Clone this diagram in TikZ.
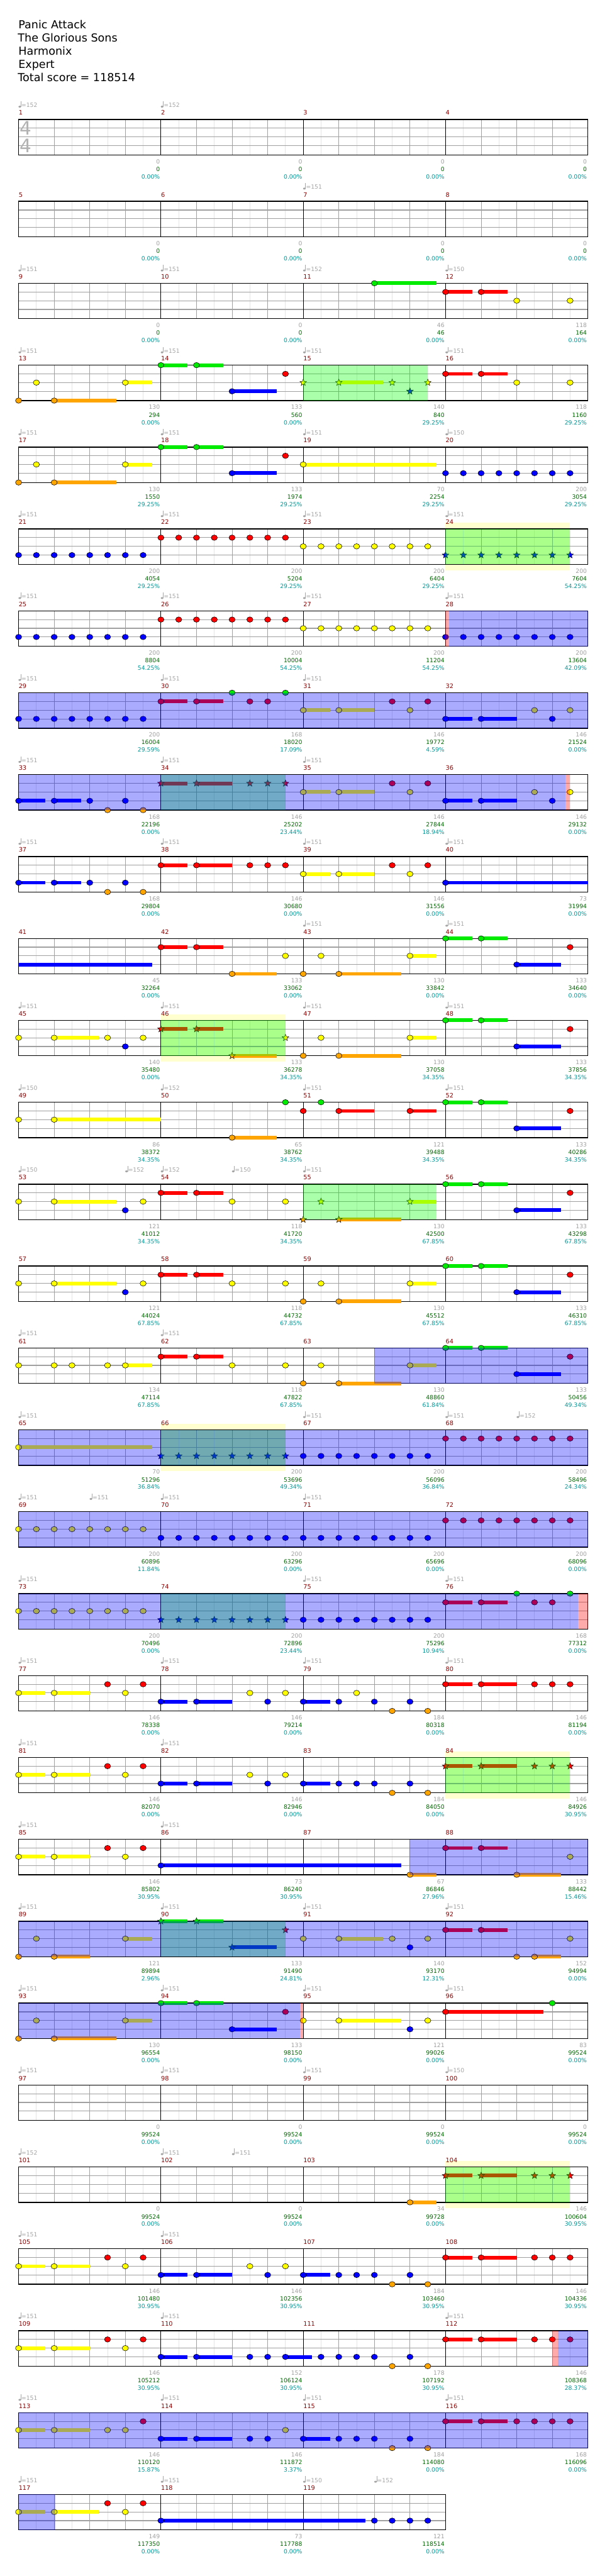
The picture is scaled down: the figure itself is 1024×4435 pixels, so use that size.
\documentclass[tikz,border=0pt]{standalone}
\usepackage{fontspec}
\setmainfont{DejaVu Sans}
\usetikzlibrary{shapes.geometric}
\definecolor{colg}{RGB}{0,235,0}
\definecolor{colr}{RGB}{255,0,0}
\definecolor{coly}{RGB}{255,255,0}
\definecolor{colb}{RGB}{0,0,255}
\definecolor{colo}{RGB}{255,165,0}
\definecolor{grayc}{RGB}{160,160,160}
\definecolor{greenc}{RGB}{0,100,0}
\definecolor{tealc}{RGB}{0,150,150}
\definecolor{mnumc}{RGB}{139,0,0}
\definecolor{tempoc}{RGB}{165,165,165}
\definecolor{bandc}{RGB}{255,255,208}
\definecolor{elinec}{RGB}{228,228,228}
\definecolor{qlinec}{RGB}{160,160,160}
\definecolor{tsigc}{RGB}{178,178,178}
\def\laneg{0}\def\laner{15}\def\laney{30}\def\laneb{45}\def\laneo{61}
\newcounter{nd}
\tikzset{
  small/.style={font=\fontsize{7.5}{9}\selectfont,inner sep=0pt},
  mnum/.style={font=\fontsize{7.9}{9}\selectfont,text=mnumc,inner sep=0pt},
  titletext/.style={font=\fontsize{14.25}{17}\selectfont,anchor=base west,inner sep=0pt},
  tsig/.style={font=\fontsize{24}{26}\selectfont,text=tsigc,inner sep=0pt},
  eline/.style={draw=elinec,line width=0.6pt},
  qline/.style={draw=qlinec,line width=0.7pt},
  mline/.style={draw=black,line width=0.6pt},
  laneline/.style={draw=qlinec,line width=0.9pt},
  border/.style={draw=black,line width=1.1pt},
  notehead/.style={draw=black,line width=0.45pt},
  starnote/.style={star,star points=5,star point ratio=2.3,minimum size=9pt,inner sep=0pt,draw=black,line width=0.4pt},
  gover/.style={fill={rgb,255:red,0;green,255;blue,0},opacity=0.3333},
  bover/.style={fill={rgb,255:red,0;green,0;blue,255},opacity=0.3333},
  pover/.style={fill={rgb,255:red,255;green,0;blue,0},opacity=0.3333},
}
\newcommand\SetRow[1]{\pgfmathsetmacro\curT{205.67+141*(#1-1)}}
\newcommand\Grid[2]{%
  \pgfmathsetmacro\gXe{32+245*#1}%
  \pgfmathtruncatemacro\gNe{8*#1-1}%
  \foreach \e in {1,...,\gNe}{%
    \pgfmathtruncatemacro\gQ{mod(\e,2)}%
    \ifnum\gQ=1 \draw[eline] ({32+30.625*\e},\curT) -- ++(0,61);\fi
  }%
  \foreach \l in {15,30,45}{\draw[laneline] (32,\curT+\l) -- (\gXe,\curT+\l);}%
  \foreach \e in {1,...,\gNe}{%
    \pgfmathtruncatemacro\gM{mod(\e,8)}%
    \pgfmathtruncatemacro\gQ{mod(\e,2)}%
    \ifnum\gM=0 \draw[mline] ({32+30.625*\e},\curT) -- ++(0,61);%
    \else\ifnum\gQ=0 \draw[qline] ({32+30.625*\e},\curT) -- ++(0,61);\fi\fi
  }%
  \draw[border] (32,\curT) rectangle (\gXe,\curT+61);%
  \pgfmathtruncatemacro\gNm{#1-1}%
  \foreach \j in {0,...,\gNm}{\stepcounter{nd}\node[mnum,anchor=base west] (m\thend) at ({32+245*\j},\curT-7.7) {\the\numexpr#2+\j\relax};}%
}
\newcommand\nt[3]{%
  \pgfmathsetmacro\nX{32+30.625*(#2)}%
  \pgfmathsetmacro\nY{\curT+\csname lane#1\endcsname}%
  \if\relax\detokenize{#3}\relax\else
    \fill[col#1] (\nX,\nY-3.2) rectangle ({32+30.625*(#3)},\nY+3.2);%
  \fi
  \filldraw[fill=col#1,notehead] (\nX,\nY) ellipse [x radius=4pt,y radius=3.5pt];%
}
\newcommand\st[3]{%
  \pgfmathsetmacro\nX{32+30.625*(#2)}%
  \pgfmathsetmacro\nY{\curT+\csname lane#1\endcsname}%
  \if\relax\detokenize{#3}\relax\else
    \fill[col#1] (\nX,\nY-3.2) rectangle ({32+30.625*(#3)},\nY+3.2);%
  \fi
  \stepcounter{nd}\node[starnote,fill=col#1] (s\thend) at (\nX,\nY) {};%
}
\newcommand\run[3]{\foreach \i in {#2,...,#3}{\nt{#1}{\i}{}}}
\newcommand\srun[3]{\foreach \i in {#2,...,#3}{\st{#1}{\i}{}}}
\newcommand\Tempo[2]{%
  \pgfmathsetmacro\tX{32+30.625*(#1)}%
  \fill[tempoc] (\tX+2,\curT-22) ellipse [x radius=1.7pt,y radius=1.25pt];%
  \draw[tempoc,line width=0.5pt] (\tX+3.9,\curT-22) -- (\tX+3.9,\curT-31.5);%
  \stepcounter{nd}\node[small,text=tempoc,anchor=base west] (t\thend) at (\tX+4.6,\curT-21) {=#2};%
}
\newcommand\Labs[1]{%
  \foreach \g/\c/\p [count=\j] in {#1}{%
    \stepcounter{nd}\node[small,text=grayc,anchor=base east] (a\thend) at ({32+245*\j-1.5},\curT+76.2) {\g};%
    \stepcounter{nd}\node[small,text=greenc,anchor=base east] (b\thend) at ({32+245*\j-1.5},\curT+89.3) {\c};%
    \stepcounter{nd}\node[small,text=tealc,anchor=base east] (c\thend) at ({32+245*\j-1.5},\curT+102.2) {\p\%};%
  }}
\newcommand\Band[2]{\fill[bandc] ({32+30.625*(#1)},\curT-10.7) rectangle ({32+30.625*(#2)},\curT+71);}
\newcommand\GO[2]{\fill[gover] ({32+30.625*(#1)},\curT) rectangle ({32+30.625*(#2)},\curT+61);}
\newcommand\BO[2]{\fill[bover] ({32+30.625*(#1)},\curT) rectangle ({32+30.625*(#2)},\curT+61);}
\newcommand\PO[2]{\fill[pover] ({32+30.625*(#1)},\curT) rectangle ({32+30.625*(#2)},\curT+61);}
\newcommand\TempoRow[1]{\foreach \e in {#1}{\Tempo{\e}{151}}}
\begin{document}
\begin{tikzpicture}[x=0.75pt,y=-0.75pt]
\useasboundingbox[fill=white] (0,0) rectangle (1024,4435);
% title
\node[titletext] (title1) at (31.5,49) {Panic Attack};
\node[titletext] (title2) at (30.5,71.8) {The Glorious Sons};
\node[titletext] (title3) at (31.5,94.6) {Harmonix};
\node[titletext] (title4) at (31.5,117.4) {Expert};
\node[titletext] (title5) at (30.5,140.2) {Total score = 118514};
% ---------- row 1
\SetRow{1}
\Grid{4}{1}
\node[tsig] (ts1) at (44.7,\curT+15) {4};
\node[tsig] (ts2) at (44.7,\curT+45) {4};
\Tempo{0}{152}\Tempo{8}{152}
\Labs{0/0/0.00,0/0/0.00,0/0/0.00,0/0/0.00}
% ---------- row 2
\SetRow{2}
\Grid{4}{5}
\Tempo{16}{151}
\Labs{0/0/0.00,0/0/0.00,0/0/0.00,0/0/0.00}
% ---------- row 3
\SetRow{3}
\Grid{4}{9}
\Tempo{0}{151}\Tempo{8}{151}\Tempo{16}{152}\Tempo{24}{150}
\nt g{20}{23.5}\nt r{24}{25.5}\nt r{26}{27.5}\nt y{28}{}\nt y{31}{}
\Labs{0/0/0.00,0/0/0.00,46/46/0.00,118/164/0.00}
% ---------- row 4
\SetRow{4}
\Grid{4}{13}
\TempoRow{0,8,16,24}
\nt o{0}{}\nt y{1}{}\nt o{2}{5.5}\nt y{6}{7.5}\nt g{8}{9.5}\nt g{10}{11.5}\nt b{12}{14.5}\nt r{15}{}
\st y{16}{}\st y{18}{20.5}\st y{21}{}\st b{22}{}\st y{23}{}
\nt r{24}{25.5}\nt r{26}{27.5}\nt y{28}{}\nt y{31}{}
\GO{16}{23}
\Labs{130/294/0.00,133/560/0.00,140/840/29.25,118/1160/29.25}
% ---------- row 5
\SetRow{5}
\Grid{4}{17}
\Tempo{0}{151}\Tempo{8}{151}\Tempo{16}{151}\Tempo{24}{150}
\nt o{0}{}\nt y{1}{}\nt o{2}{5.5}\nt y{6}{7.5}\nt g{8}{9.5}\nt g{10}{11.5}\nt b{12}{14.5}\nt r{15}{}
\nt y{16}{23.5}\run b{24}{31}
\Labs{130/1550/29.25,133/1974/29.25,70/2254/29.25,200/3054/29.25}
% ---------- row 6
\SetRow{6}
\Band{24}{31}
\Grid{4}{21}
\TempoRow{0,8,16,24}
\run b{0}{7}\run r{8}{15}\run y{16}{23}\srun b{24}{31}
\GO{24}{31}
\Labs{200/4054/29.25,200/5204/29.25,200/6404/29.25,200/7604/54.25}
% ---------- row 7
\SetRow{7}
\Grid{4}{25}
\TempoRow{0,8,16,24}
\run b{0}{7}\run r{8}{15}\run y{16}{23}\run b{24}{31}
\PO{24}{24.2}\BO{24.2}{32}
\Labs{200/8804/54.25,200/10004/54.25,200/11204/54.25,200/13604/42.09}
% ---------- row 8
\SetRow{8}
\Grid{4}{29}
\TempoRow{0,8,16}
\run b{0}{7}\nt r{8}{9.5}\nt r{10}{11.5}\nt g{12}{}\nt r{13}{}\nt r{14}{}\nt g{15}{}
\nt y{16}{17.5}\nt y{18}{20}\nt r{21}{}\nt y{22}{}\nt r{23}{}
\nt b{24}{25.5}\nt b{26}{28}\nt y{29}{}\nt b{30}{}\nt y{31}{}
\BO{0}{32}
\Labs{200/16004/29.59,168/18020/17.09,146/19772/4.59,146/21524/0.00}
% ---------- row 9
\SetRow{9}
\Grid{4}{33}
\TempoRow{0,8,16}
\nt b{0}{1.5}\nt b{2}{3.5}\nt b{4}{}\nt o{5}{}\nt b{6}{}\nt o{7}{}
\st r{8}{9.5}\st r{10}{12}\st r{13}{}\st r{14}{}\st r{15}{}
\nt y{16}{17.5}\nt y{18}{20}\nt r{21}{}\nt y{22}{}\nt r{23}{}
\nt b{24}{25.5}\nt b{26}{28}\nt y{29}{}\nt b{30}{}\nt y{31}{}
\GO{8}{15}\BO{0}{30.74}\PO{30.74}{31}
\Labs{168/22196/0.00,146/25202/23.44,146/27844/18.94,146/29132/0.00}
% ---------- row 10
\SetRow{10}
\Grid{4}{37}
\TempoRow{0,8,16,24}
\nt b{0}{1.5}\nt b{2}{3.5}\nt b{4}{}\nt o{5}{}\nt b{6}{}\nt o{7}{}
\nt r{8}{9.5}\nt r{10}{12}\nt r{13}{}\nt r{14}{}\nt r{15}{}
\nt y{16}{17.5}\nt y{18}{20}\nt r{21}{}\nt y{22}{}\nt r{23}{}
\nt b{24}{32}
\Labs{168/29804/0.00,146/30680/0.00,146/31556/0.00,73/31994/0.00}
% ---------- row 11
\SetRow{11}
\Grid{4}{41}
\TempoRow{16,24}
\fill[colb] (32,\curT+45-3.2) rectangle ({32+30.625*7.5},\curT+45+3.2);
\nt r{8}{9.5}\nt r{10}{11.5}\nt o{12}{14.5}\nt y{15}{}\nt o{16}{}\nt y{17}{}\nt o{18}{21.5}\nt y{22}{23.5}
\nt g{24}{25.5}\nt g{26}{27.5}\nt b{28}{30.5}\nt r{31}{}
\Labs{45/32264/0.00,133/33062/0.00,130/33842/0.00,133/34640/0.00}
% ---------- row 12
\SetRow{12}
\Band{8}{15}
\Grid{4}{45}
\TempoRow{0,8,16,24}
\nt y{0}{}\nt y{2}{4.5}\nt y{5}{}\nt b{6}{}\nt y{7}{}
\st r{8}{9.5}\st r{10}{11.5}\st o{12}{14.5}\st y{15}{}
\nt o{16}{}\nt y{17}{}\nt o{18}{21.5}\nt y{22}{23.5}
\nt g{24}{25.5}\nt g{26}{27.5}\nt b{28}{30.5}\nt r{31}{}
\GO{8}{15}
\Labs{140/35480/0.00,133/36278/34.35,130/37058/34.35,133/37856/34.35}
% ---------- row 13
\SetRow{13}
\Grid{4}{49}
\Tempo{0}{150}\Tempo{8}{152}\Tempo{16}{151}\Tempo{24}{151}
\nt y{0}{}\nt y{2}{8}\nt o{12}{14.5}\nt g{15}{}
\nt r{16}{}\nt g{17}{}\nt r{18}{20}\nt r{22}{23.5}
\nt g{24}{25.5}\nt g{26}{27.5}\nt b{28}{30.5}\nt r{31}{}
\Labs{86/38372/34.35,65/38762/34.35,121/39488/34.35,133/40286/34.35}
% ---------- row 14
\SetRow{14}
\Grid{4}{53}
\Tempo{0}{150}\Tempo{6}{152}\Tempo{8}{152}\Tempo{12}{150}\Tempo{16}{151}
\nt y{0}{}\nt y{2}{5.5}\nt b{6}{}\nt y{7}{}
\nt r{8}{9.5}\nt r{10}{11.5}\nt y{12}{}\nt y{15}{}
\st o{16}{}\st y{17}{}\st o{18}{21.5}\st y{22}{23.5}
\nt g{24}{25.5}\nt g{26}{27.5}\nt b{28}{30.5}\nt r{31}{}
\GO{16}{23.5}
\Labs{121/41012/34.35,118/41720/34.35,130/42500/67.85,133/43298/67.85}
% ---------- row 15
\SetRow{15}
\Grid{4}{57}
\nt y{0}{}\nt y{2}{5.5}\nt b{6}{}\nt y{7}{}
\nt r{8}{9.5}\nt r{10}{11.5}\nt y{12}{}\nt y{15}{}
\nt o{16}{}\nt y{17}{}\nt o{18}{21.5}\nt y{22}{23.5}
\nt g{24}{25.5}\nt g{26}{27.5}\nt b{28}{30.5}\nt r{31}{}
\Labs{121/44024/67.85,118/44732/67.85,130/45512/67.85,133/46310/67.85}
% ---------- row 16
\SetRow{16}
\Grid{4}{61}
\TempoRow{0,8}
\nt y{0}{}\nt y{2}{}\nt y{3}{}\nt y{5}{}\nt y{6}{7.5}
\nt r{8}{9.5}\nt r{10}{11.5}\nt y{12}{}\nt y{15}{}
\nt o{16}{}\nt y{17}{}\nt o{18}{21.5}\nt y{22}{23.5}
\nt g{24}{25.5}\nt g{26}{27.5}\nt b{28}{30.5}\nt r{31}{}
\BO{20}{32}
\Labs{134/47114/67.85,118/47822/67.85,130/48860/61.84,133/50456/49.34}
% ---------- row 17
\SetRow{17}
\Band{8}{15}
\Grid{4}{65}
\Tempo{0}{151}\Tempo{16}{151}\Tempo{24}{151}\Tempo{28}{152}
\nt y{0}{7.5}\srun b{8}{15}\run b{16}{23}\run r{24}{31}
\GO{8}{15}\BO{0}{32}
\Labs{70/51296/36.84,200/53696/49.34,200/56096/36.84,200/58496/24.34}
% ---------- row 18
\SetRow{18}
\Grid{4}{69}
\TempoRow{0,4,8,16}
\run y{0}{7}\run b{8}{23}\run r{24}{31}
\BO{0}{32}
\Labs{200/60896/11.84,200/63296/0.00,200/65696/0.00,200/68096/0.00}
% ---------- row 19
\SetRow{19}
\Grid{4}{73}
\TempoRow{0,16,24}
\run y{0}{7}\srun b{8}{15}\run b{16}{23}
\nt r{24}{25.5}\nt r{26}{27.5}\nt g{28}{}\nt r{29}{}\nt r{30}{}\nt g{31}{}
\GO{8}{15}\BO{0}{31.45}\PO{31.45}{32}
\Labs{200/70496/0.00,200/72896/23.44,200/75296/10.94,168/77312/0.00}
% ---------- row 20
\SetRow{20}
\Grid{4}{77}
\TempoRow{0,8,16,24}
\nt y{0}{1.5}\nt y{2}{4}\nt r{5}{}\nt y{6}{}\nt r{7}{}
\nt b{8}{9.5}\nt b{10}{12}\nt y{13}{}\nt b{14}{}\nt y{15}{}
\nt b{16}{17.5}\nt b{18}{}\nt y{19}{}\nt b{20}{}\nt o{21}{}\nt b{22}{}\nt o{23}{}
\nt r{24}{25.5}\nt r{26}{28}\nt r{29}{}\nt r{30}{}\nt r{31}{}
\Labs{146/78338/0.00,146/79214/0.00,184/80318/0.00,146/81194/0.00}
% ---------- row 21
\SetRow{21}
\Band{24}{31}
\Grid{4}{81}
\TempoRow{0,8}
\nt y{0}{1.5}\nt y{2}{4}\nt r{5}{}\nt y{6}{}\nt r{7}{}
\nt b{8}{9.5}\nt b{10}{12}\nt y{13}{}\nt b{14}{}\nt y{15}{}
\nt b{16}{17.5}\nt b{18}{}\nt b{19}{}\nt b{20}{}\nt o{21}{}\nt b{22}{}\nt o{23}{}
\st r{24}{25.5}\st r{26}{28}\st r{29}{}\st r{30}{}\st r{31}{}
\GO{24}{31}
\Labs{146/82070/0.00,146/82946/0.00,184/84050/0.00,146/84926/30.95}
% ---------- row 22
\SetRow{22}
\Grid{4}{85}
\TempoRow{0,8}
\nt y{0}{1.5}\nt y{2}{4}\nt r{5}{}\nt y{6}{}\nt r{7}{}
\nt b{8}{21.5}\nt o{22}{23.5}
\nt r{24}{25.5}\nt r{26}{27.5}\nt o{28}{30.5}\nt y{31}{}
\BO{22}{32}
\draw[red!75,line width=0.6pt] ({32+30.625*22},\curT) -- ++(0,61);
\Labs{146/85802/30.95,73/86240/30.95,67/86846/27.96,133/88442/15.46}
% ---------- row 23
\SetRow{23}
\Grid{4}{89}
\TempoRow{0,8,16,24}
\nt o{0}{}\nt y{1}{}\nt o{2}{4}\nt y{6}{7.5}
\st g{8}{9.5}\st g{10}{11.5}\st b{12}{14.5}\st r{15}{}
\nt y{16}{}\nt y{18}{20.5}\nt y{21}{}\nt b{22}{}\nt y{23}{}
\nt r{24}{25.5}\nt r{26}{27.5}\nt o{28}{}\nt o{29}{30.5}\nt y{31}{}
\GO{8}{15}\BO{0}{32}
\Labs{121/89894/2.96,133/91490/24.81,140/93170/12.31,152/94994/0.00}
% ---------- row 24
\SetRow{24}
\Grid{4}{93}
\TempoRow{0,8,16,24}
\nt o{0}{}\nt y{1}{}\nt o{2}{5.5}\nt y{6}{7.5}
\nt g{8}{9.5}\nt g{10}{11.5}\nt b{12}{14.5}\nt r{15}{}
\nt y{16}{}\nt y{18}{21.5}\nt b{22}{}\nt y{23}{}
\nt r{24}{29.5}\nt g{30}{}
\BO{0}{15.82}\PO{15.82}{16}
\Labs{130/96554/0.00,133/98150/0.00,121/99026/0.00,83/99524/0.00}
% ---------- row 25
\SetRow{25}
\Grid{4}{97}
\Tempo{0}{151}\Tempo{8}{151}\Tempo{16}{151}\Tempo{24}{150}
\Labs{0/99524/0.00,0/99524/0.00,0/99524/0.00,0/99524/0.00}
% ---------- row 26
\SetRow{26}
\Band{24}{31}
\Grid{4}{101}
\Tempo{0}{152}\Tempo{8}{151}\Tempo{12}{151}
\nt o{22}{23.5}
\st r{24}{25.5}\st r{26}{28}\st r{29}{}\st r{30}{}\st r{31}{}
\GO{24}{31}
\Labs{0/99524/0.00,0/99524/0.00,34/99728/0.00,146/100604/30.95}
% ---------- row 27
\SetRow{27}
\Grid{4}{105}
\TempoRow{0,8}
\nt y{0}{1.5}\nt y{2}{4}\nt r{5}{}\nt y{6}{}\nt r{7}{}
\nt b{8}{9.5}\nt b{10}{12}\nt y{13}{}\nt b{14}{}\nt y{15}{}
\nt b{16}{17.5}\nt b{18}{}\nt b{19}{}\nt b{20}{}\nt o{21}{}\nt b{22}{}\nt o{23}{}
\nt r{24}{25.5}\nt r{26}{28}\nt r{29}{}\nt r{30}{}\nt r{31}{}
\Labs{146/101480/30.95,146/102356/30.95,184/103460/30.95,146/104336/30.95}
% ---------- row 28
\SetRow{28}
\Grid{4}{109}
\TempoRow{0,8,24}
\nt y{0}{1.5}\nt y{2}{4}\nt r{5}{}\nt y{6}{}\nt r{7}{}
\nt b{8}{9.5}\nt b{10}{12}\nt b{13}{}\nt b{14}{}\nt b{15}{16.5}
\nt b{17}{}\nt b{18}{}\nt b{19}{}\nt b{20}{}\nt o{21}{}\nt b{22}{}\nt o{23}{}
\nt r{24}{25.5}\nt r{26}{28}\nt r{29}{}\nt r{30}{}\nt r{31}{}
\PO{30}{30.3}\BO{30.3}{32}
\Labs{146/105212/30.95,152/106124/30.95,178/107192/30.95,146/108368/28.37}
% ---------- row 29
\SetRow{29}
\Grid{4}{113}
\TempoRow{0,8,16,24}
\nt y{0}{1.5}\nt y{2}{4}\nt y{5}{}\nt y{6}{}\nt r{7}{}
\nt b{8}{9.5}\nt b{10}{12}\nt b{13}{}\nt b{14}{}\nt y{15}{}
\nt b{16}{17.5}\nt b{18}{}\nt b{19}{}\nt b{20}{}\nt o{21}{}\nt b{22}{}\nt o{23}{}
\nt r{24}{25.5}\nt r{26}{27.5}\nt r{28}{}\nt r{29}{}\nt r{30}{}\nt r{31}{}
\BO{0}{32}
\Labs{146/110120/15.87,146/111872/3.37,184/114080/0.00,168/116096/0.00}
% ---------- row 30
\SetRow{30}
\Grid{3}{117}
\Tempo{0}{151}\Tempo{8}{151}\Tempo{16}{150}\Tempo{20}{152}
\nt y{0}{1.5}\nt y{2}{4.5}\nt r{5}{}\nt y{6}{}\nt r{7}{}
\nt b{8}{19.5}\nt b{20}{}\nt b{21}{}\nt b{22}{}\nt b{23}{}
\BO{0}{2.07}
\Labs{149/117350/0.00,73/117788/0.00,121/118514/0.00}
\end{tikzpicture}
\end{document}
